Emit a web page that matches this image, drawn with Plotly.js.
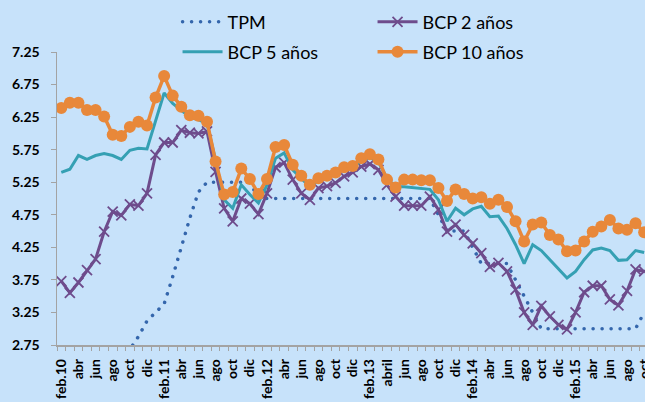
<!DOCTYPE html>
<html>
<head>
<meta charset="utf-8">
<script src="https://cdn.plot.ly/plotly-3.0.1.min.js"></script>
<style>
html,body{margin:0;padding:0;background:#C7E2FA;}
#chart{width:645px;height:402px;}
</style>
</head>
<body>
<div id="chart"></div>
<script>
// Month labels (feb.10 .. oct.15); only every second one is shown on the axis
const months = [
  'feb.10','mar','abr','may','jun','jul','ago','sep','oct','nov','dic','ene.11',
  'feb.11','mar','abr','may','jun','jul','ago','sep','oct','nov','dic','ene.12',
  'feb.12','mar','abr','may','jun','jul','ago','sep','oct','nov','dic','ene.13',
  'feb.13','mar','abril','may','jun','jul','ago','sep','oct','nov','dic','ene.14',
  'feb.14','mar','abr','may','jun','jul','ago','sep','oct','nov','dic','ene.15',
  'feb.15','mar','abr','may','jun','jul','ago','sep','oct'
];

const tpm = [
  0.5,0.5,0.5,0.5,1.0,1.5,2.0,2.5,2.68,2.88,3.12,3.25,
  3.38,3.8,4.27,4.7,5.1,5.25,5.25,5.25,5.25,5.25,5.25,5.0,
  5.0,5.0,5.0,5.0,5.0,5.0,5.0,5.0,5.0,5.0,5.0,5.0,
  5.0,5.0,5.0,5.0,5.0,5.0,5.0,5.0,4.75,4.5,4.5,4.5,
  4.25,4.0,4.0,4.0,4.0,3.75,3.5,3.25,3.0,3.0,3.0,3.0,
  3.0,3.0,3.0,3.0,3.0,3.0,3.0,3.0,3.25
];

const bcp2 = [
  3.73,3.55,3.71,3.90,4.07,4.49,4.80,4.74,4.91,4.89,5.08,5.67,
  5.86,5.86,6.05,6.01,6.00,6.03,5.41,4.85,4.65,5.00,4.92,4.76,
  5.08,5.48,5.55,5.29,5.08,4.98,5.16,5.19,5.24,5.34,5.40,5.49,
  5.53,5.44,5.21,5.03,4.89,4.89,4.89,5.03,4.83,4.49,4.60,4.44,
  4.31,4.16,3.95,4.01,3.88,3.60,3.25,3.06,3.35,3.19,3.06,2.99,
  3.25,3.56,3.66,3.66,3.45,3.36,3.58,3.91,3.88
];

const bcp5 = [
  5.40,5.45,5.66,5.60,5.66,5.69,5.66,5.60,5.74,5.77,5.76,6.18,
  6.62,6.46,6.36,6.25,6.21,6.15,5.59,4.98,4.85,5.21,5.06,4.93,
  5.21,5.62,5.70,5.44,5.31,5.18,5.28,5.34,5.39,5.45,5.48,5.58,
  5.63,5.56,5.31,5.18,5.18,5.17,5.15,5.14,4.98,4.65,4.85,4.75,
  4.84,4.88,4.72,4.73,4.54,4.29,4.00,4.29,4.20,4.06,3.92,3.78,
  3.88,4.06,4.21,4.24,4.20,4.05,4.06,4.20,4.17
];

const bcp10 = [
  6.39,6.47,6.47,6.36,6.36,6.26,5.98,5.96,6.10,6.18,6.12,6.55,
  6.88,6.58,6.41,6.28,6.27,6.18,5.57,5.06,5.10,5.46,5.30,5.07,
  5.30,5.79,5.82,5.52,5.35,5.21,5.31,5.35,5.40,5.48,5.50,5.62,
  5.68,5.60,5.29,5.17,5.29,5.29,5.28,5.28,5.16,4.96,5.14,5.07,
  5.00,5.02,4.92,4.98,4.87,4.65,4.34,4.60,4.63,4.44,4.37,4.19,
  4.20,4.34,4.49,4.57,4.67,4.54,4.52,4.62,4.48
];

const yTicks = [2.75,3.25,3.75,4.25,4.75,5.25,5.75,6.25,6.75,7.25];

const idx = months.map((m, i) => i);
const tickIdx = idx.filter(i => i % 2 === 0);
const tickTxt = tickIdx.map(i => months[i]);

const FONT = 'Lato, "Open Sans", sans-serif';
const AX = '#A3A3A3';

const traces = [
  {name:'TPM', x:idx, y:tpm, type:'scatter', mode:'lines',
   line:{color:'#3466AC', width:3.5, dash:'3.5px,5.5px'}, legend:'legend'},
  {name:'BCP 2 años', x:idx, y:bcp2, type:'scatter', mode:'lines+markers',
   line:{color:'#6E4C8C', width:3},
   marker:{symbol:'x-thin', size:10, color:'#6E4C8C', line:{color:'#6E4C8C', width:1.8}},
   legend:'legend'},
  {name:'BCP 5 años', x:idx, y:bcp5, type:'scatter', mode:'lines',
   line:{color:'#35A0B3', width:3}, legend:'legend2'},
  {name:'BCP 10 años', x:idx, y:bcp10, type:'scatter', mode:'lines+markers',
   line:{color:'#E8883A', width:3.5},
   marker:{symbol:'circle', size:12, color:'#E8883A'}, legend:'legend2'}
];

const legendBase = {
  orientation:'h', xanchor:'left', yanchor:'middle', x:0.205,
  entrywidth:140, bgcolor:'rgba(0,0,0,0)', itemwidth:40,
  font:{family:FONT, size:18, color:'#000'}, tracegroupgap:0
};

const layout = {
  width:645, height:402,
  margin:{l:57, r:0, t:52, b:57},
  paper_bgcolor:'#C7E2FA', plot_bgcolor:'#C7E2FA',
  showlegend:true,
  legend:Object.assign({}, legendBase, {y:1.102}),
  legend2:Object.assign({}, legendBase, {y:1.0}),
  xaxis:{
    range:[-0.5, 68.1], tickmode:'array', tickvals:tickIdx, ticktext:tickTxt,
    tickangle:-90, ticks:'', ticklabelstandoff:7, ticklabeloverflow:'allow',
    tickfont:{family:FONT, size:14, color:'#000', weight:'bold'},
    showline:true, linecolor:AX, linewidth:1.5, showgrid:false, zeroline:false,
    minor:{ticks:'outside', tick0:-0.5, dtick:1, ticklen:4, tickcolor:AX, tickwidth:1, showgrid:false}
  },
  yaxis:{
    range:[2.75, 7.25], tickmode:'array', tickvals:yTicks,
    ticktext:yTicks.map(v => v.toFixed(2)),
    ticks:'outside', ticklen:5, tickcolor:AX, tickwidth:1, ticklabelstandoff:8,
    tickfont:{family:FONT, size:14, color:'#000', weight:'bold'},
    showline:true, linecolor:AX, linewidth:1.5, showgrid:false, zeroline:false
  }
};

Plotly.newPlot('chart', traces, layout, {displayModeBar:false, staticPlot:true}).then(gd => {
  // round dots for the dotted TPM line, as in the original
  const paths = gd.querySelectorAll('.scatterlayer .trace:first-child path.js-line, .legend .traces:first-child path.js-line');
  paths.forEach(p => { p.style.strokeLinecap = 'round'; p.style.strokeDasharray = '0.1px,8.9px'; });
});
</script>
</body>
</html>
